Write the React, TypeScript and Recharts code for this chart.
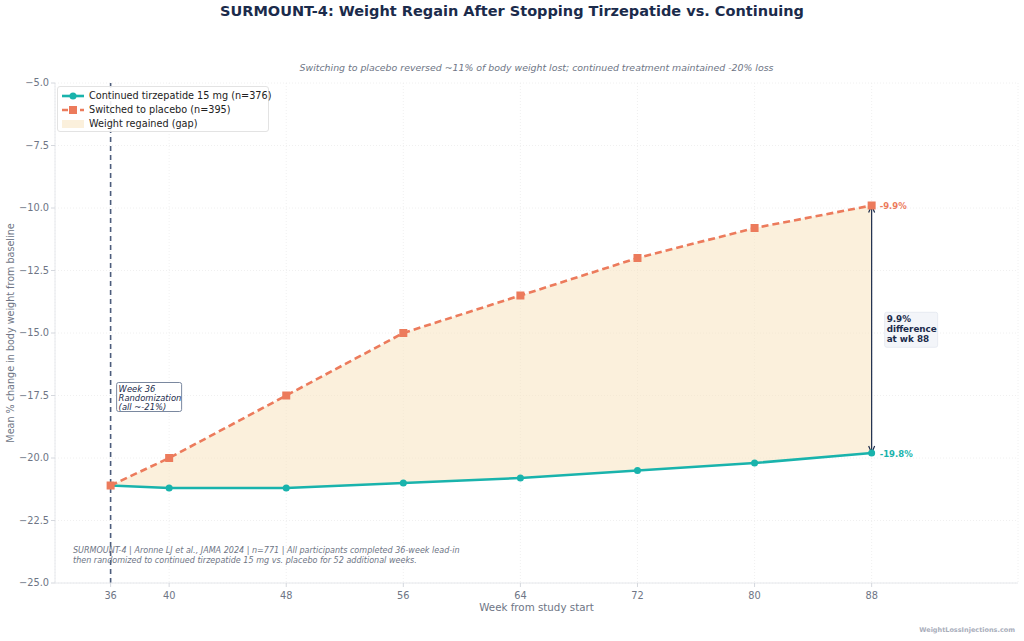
import React from 'react';
import {
  ComposedChart, Line, Area, XAxis, YAxis, CartesianGrid, ReferenceLine, ReferenceDot, LabelList,
} from 'recharts';

const weeks = [36, 40, 48, 56, 64, 72, 80, 88];
const continued = [-21.1, -21.2, -21.2, -21.0, -20.8, -20.5, -20.2, -19.8];
const placebo = [-21.1, -20.0, -17.5, -15.0, -13.5, -12.0, -10.8, -9.9];
const xTicks = [36, 40, 48, 56, 64, 72, 80, 88];
const yTicks = [-25, -22.5, -20, -17.5, -15, -12.5, -10, -7.5, -5];

const TEAL = '#19b3ac';
const ORANGE = '#ec7b5c';
const NAVY = '#1b2b4b';
const GRAY = '#6e7585';
const FONT = '"DejaVu Sans", sans-serif';

const data = weeks.map((w, i) => ({
  week: w,
  cont: continued[i],
  plac: placebo[i],
  gap: [continued[i], placebo[i]],
}));

const SquareDot = (props: any) => {
  const { cx, cy } = props;
  if (cx == null || cy == null) return null;
  return <rect x={cx - 4} y={cy - 4} width={8} height={8} fill={ORANGE} />;
};

const endLabel = (color: string) => (props: any) => {
  const { x, y, value, index } = props;
  if (index !== weeks.length - 1) return null;
  return (
    <text x={x + 8} y={y + 3.5} fill={color} fontSize={8.5} fontWeight="bold" fontFamily={FONT}>
      {`${value.toFixed(1)}%`}
    </text>
  );
};

const ArrowShape = (props: any) => {
  const { x1, y1, x2, y2 } = props;
  if (x1 == null) return null;
  const top = Math.min(y1, y2);
  const bot = Math.max(y1, y2);
  return (
    <g>
      <line x1={x1} y1={top + 2} x2={x2} y2={bot - 2} stroke={NAVY} strokeWidth={1.2} />
      <path d={`M${x1 - 3},${top + 7} L${x1},${top} L${x1 + 3},${top + 7}`} fill="none" stroke={NAVY} strokeWidth={1.2} />
      <path d={`M${x1 - 3},${bot - 7} L${x1},${bot} L${x1 + 3},${bot - 7}`} fill="none" stroke={NAVY} strokeWidth={1.2} />
    </g>
  );
};

const DiffBox = (props: any) => {
  const { cx, cy } = props;
  if (cx == null) return null;
  const x0 = cx + 13;
  return (
    <g fontFamily={FONT} fontSize={8.8} fontWeight="bold" fill={NAVY}>
      <rect x={x0} y={cy - 17} width={53} height={35} rx={2} fill="#f3f5f9" stroke="#e3e7ef" strokeWidth={0.8} />
      <text x={x0 + 2} y={cy - 7}>9.9%</text>
      <text x={x0 + 2} y={cy + 3}>difference</text>
      <text x={x0 + 2} y={cy + 13}>at wk 88</text>
    </g>
  );
};

const RandBox = (props: any) => {
  const { cx, cy } = props;
  if (cx == null) return null;
  const x0 = cx + 6;
  return (
    <g fontFamily={FONT} fontSize={8.4} fontStyle="italic" fill={NAVY}>
      <rect x={x0} y={cy - 13} width={65} height={29} rx={2} fill="#ffffff" stroke="#6b7a94" strokeWidth={0.9} />
      <text x={x0 + 2} y={cy - 4}>Week 36</text>
      <text x={x0 + 2} y={cy + 5}>Randomization</text>
      <text x={x0 + 2} y={cy + 14}>(all ~-21%)</text>
    </g>
  );
};

const fmtY = (v: number) => v.toFixed(1).replace('-', '\u2212');

export default function App() {
  return (
    <div style={{ position: 'absolute', left: 0, top: 0, width: 1024, height: 641, background: '#fff', fontFamily: FONT }}>
      <div style={{ position: 'absolute', top: 3, width: 1024, textAlign: 'center', fontSize: 14.5, fontWeight: 'bold', color: NAVY }}>
        SURMOUNT-4: Weight Regain After Stopping Tirzepatide vs. Continuing
      </div>
      <div style={{ position: 'absolute', top: 62, left: 55, width: 963, textAlign: 'center', fontSize: 9.4, fontStyle: 'italic', color: GRAY, whiteSpace: 'nowrap' }}>
        Switching to placebo reversed ~11% of body weight lost; continued treatment maintained -20% loss
      </div>

      <ComposedChart width={1024} height={641} data={data} margin={{ top: 83, right: 6, bottom: 18, left: 0 }}>
        <CartesianGrid stroke="#ececec" strokeDasharray="1 2" strokeWidth={0.8} />
        <XAxis
          dataKey="week"
          type="number"
          domain={[32.2, 98]}
          ticks={xTicks}
          height={40}
          allowDataOverflow
          tick={{ fill: GRAY, fontSize: 9.8 }}
          tickLine={{ stroke: '#d5d8de' }}
          tickSize={4}
          tickMargin={5}
          axisLine={{ stroke: '#e6e8ec' }}
          label={{ value: 'Week from study start', position: 'insideBottom', offset: 12, fill: GRAY, fontSize: 10.3 }}
        />
        <YAxis
          type="number"
          domain={[-25, -5]}
          ticks={yTicks}
          width={55}
          allowDataOverflow
          tickFormatter={fmtY}
          tick={{ fill: GRAY, fontSize: 9.8 }}
          tickLine={{ stroke: '#d5d8de' }}
          tickSize={4}
          axisLine={{ stroke: '#e6e8ec' }}
          label={{ value: 'Mean % change in body weight from baseline', angle: -90, position: 'insideLeft', offset: 11, fill: GRAY, fontSize: 9.6, style: { textAnchor: 'middle' } }}
        />
        <Area dataKey="gap" type="linear" fill="#f8e3bf" fillOpacity={0.55} stroke="none" isAnimationActive={false} />
        <ReferenceLine x={36} stroke="#4d5d7c" strokeWidth={1.6} strokeDasharray="5 4" />
        <Line
          dataKey="cont"
          type="linear"
          stroke={TEAL}
          strokeWidth={2.6}
          dot={{ r: 3.5, fill: TEAL, stroke: TEAL, strokeWidth: 0 }}
          isAnimationActive={false}
        >
          <LabelList dataKey="cont" content={endLabel(TEAL)} />
        </Line>
        <Line
          dataKey="plac"
          type="linear"
          stroke={ORANGE}
          strokeWidth={2.6}
          strokeDasharray="7 4"
          dot={<SquareDot />}
          isAnimationActive={false}
        >
          <LabelList dataKey="plac" content={endLabel(ORANGE)} />
        </Line>
        <ReferenceLine
          segment={[{ x: 88, y: placebo[7] }, { x: 88, y: continued[7] }]}
          shape={<ArrowShape />}
        />
        <ReferenceDot x={88} y={-14.85} r={0} shape={<DiffBox />} />
        <ReferenceDot x={36} y={-17.5} r={0} shape={<RandBox />} />
      </ComposedChart>

      <div style={{ position: 'absolute', left: 57, top: 86, width: 210, height: 44, border: '1px solid #e3e3e3', borderRadius: 3, background: 'rgba(255,255,255,0.9)', fontSize: 9.7, color: '#222', whiteSpace: 'nowrap' }}>
        <div style={{ position: 'absolute', left: 4, top: 3, display: 'flex', alignItems: 'center' }}>
          <svg width={22} height={10}>
            <line x1={0} y1={5} x2={22} y2={5} stroke={TEAL} strokeWidth={2.6} />
            <circle cx={11} cy={5} r={3.5} fill={TEAL} />
          </svg>
          <span style={{ marginLeft: 5 }}>Continued tirzepatide 15 mg (n=376)</span>
        </div>
        <div style={{ position: 'absolute', left: 4, top: 17, display: 'flex', alignItems: 'center' }}>
          <svg width={22} height={10}>
            <line x1={0} y1={5} x2={22} y2={5} stroke={ORANGE} strokeWidth={2.6} strokeDasharray="6 3" />
            <rect x={7} y={1} width={8} height={8} fill={ORANGE} />
          </svg>
          <span style={{ marginLeft: 5 }}>Switched to placebo (n=395)</span>
        </div>
        <div style={{ position: 'absolute', left: 4, top: 31, display: 'flex', alignItems: 'center' }}>
          <svg width={22} height={10}>
            <rect x={0} y={1} width={22} height={8} fill="#f8e3bf" fillOpacity={0.55} />
          </svg>
          <span style={{ marginLeft: 5 }}>Weight regained (gap)</span>
        </div>
      </div>

      <div style={{ position: 'absolute', left: 73, top: 546, fontSize: 8.05, fontStyle: 'italic', color: GRAY, lineHeight: '10px', whiteSpace: 'nowrap' }}>
        SURMOUNT-4 | Aronne LJ et al., JAMA 2024 | n=771 | All participants completed 36-week lead-in<br />
        then randomized to continued tirzepatide 15 mg vs. placebo for 52 additional weeks.
      </div>
      <div style={{ position: 'absolute', right: 9, top: 626, fontSize: 6.5, fontWeight: 'bold', color: '#a9aebb' }}>
        WeightLossInjections.com
      </div>
    </div>
  );
}
